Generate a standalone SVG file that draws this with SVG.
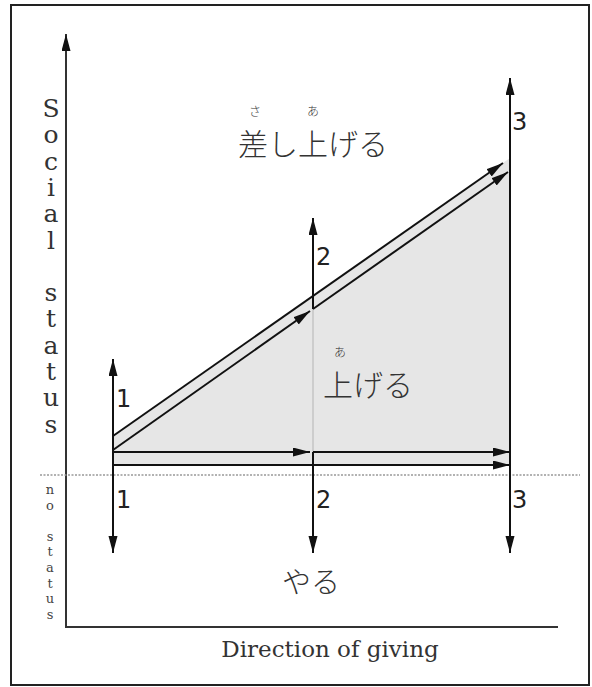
<svg xmlns="http://www.w3.org/2000/svg" width="592" height="687" viewBox="0 0 592 687">
<style>
.ax{stroke:#333;stroke-width:2;fill:none}
.ln{stroke:#111;stroke-width:2;fill:none}
.ar{stroke:#111;stroke-width:2;fill:none;marker-end:url(#ah)}
.ar2{stroke:#111;stroke-width:2;fill:none;marker-end:url(#ah);marker-start:url(#ah)}
.num{font-family:"DejaVu Sans",sans-serif;font-size:24px;fill:#222}
.lat{font-family:"DejaVu Serif","Liberation Serif",serif;fill:#333}
.jp{font-family:"Noto Sans CJK JP",sans-serif;font-weight:300;fill:#333}
</style>
<defs>
<marker id="ah" markerUnits="userSpaceOnUse" markerWidth="18" markerHeight="10" refX="17" refY="4.5" orient="auto-start-reverse">
<path d="M0,0 L17,4.5 L0,9 z" fill="#111"/>
</marker>
</defs>
<rect x="0" y="0" width="592" height="687" fill="#fff"/>
<rect id="frame" x="11" y="5" width="578" height="680" fill="none" stroke="#222" stroke-width="2"/>
<g id="region">
<polygon points="113,436 510,158 510,465 113,465" fill="#e6e6e6"/>
</g>
<g id="axes">
<line x1="66" y1="627" x2="66" y2="34" class="ax" style="marker-end:url(#ah)"/>
<line x1="65" y1="627" x2="558" y2="627" class="ax"/>
<line x1="40" y1="475" x2="580" y2="475" stroke="#999" stroke-width="1.5" stroke-dasharray="2,1.5"/>
</g>
<g id="connectors">
<line x1="113" y1="359" x2="113" y2="553" class="ar2"/>
<line x1="313" y1="218" x2="313" y2="309" class="ar" style="marker-end:none;marker-start:url(#ah)"/>
<line x1="313" y1="309" x2="313" y2="452" stroke="#c4c4c4" stroke-width="1.5"/>
<line x1="313" y1="452" x2="313" y2="553" class="ar"/>
<line x1="510" y1="78" x2="510" y2="553" class="ar2"/>
<line x1="113" y1="436" x2="503" y2="163" class="ar"/>
<line x1="113" y1="450" x2="310" y2="311" class="ar"/>
<line x1="313" y1="309" x2="508" y2="172" class="ar"/>
<line x1="113" y1="452" x2="310" y2="452" class="ar"/>
<line x1="313" y1="452" x2="510" y2="452" class="ar"/>
<line x1="113" y1="465" x2="510" y2="465" class="ar"/>
</g>
<g id="numbers">
<text class="num" x="116" y="407">1</text>
<text class="num" x="116" y="508">1</text>
<text class="num" x="316" y="265">2</text>
<text class="num" x="316" y="508">2</text>
<text class="num" x="512" y="130">3</text>
<text class="num" x="512" y="508">3</text>
</g>
<g id="social-status" class="lat" font-size="25" text-anchor="middle">
<text x="51" y="117">S</text>
<text x="51" y="143.3">o</text>
<text x="51" y="169.6">c</text>
<text x="51" y="195.9">i</text>
<text x="51" y="222.2">a</text>
<text x="51" y="248.5">l</text>
<text x="51" y="301.1">s</text>
<text x="51" y="327.4">t</text>
<text x="51" y="353.7">a</text>
<text x="51" y="380">t</text>
<text x="51" y="406.3">u</text>
<text x="51" y="432.6">s</text>
</g>
<g id="no-status" class="lat" font-size="13" text-anchor="middle" style="fill:#444">
<text x="50" y="494">n</text>
<text x="50" y="509.6">o</text>
<text x="50" y="540.8">s</text>
<text x="50" y="556.4">t</text>
<text x="50" y="572">a</text>
<text x="50" y="587.6">t</text>
<text x="50" y="603.2">u</text>
<text x="50" y="618.8">s</text>
</g>
<g id="x-label">
<text class="lat" x="330" y="657" font-size="23" text-anchor="middle">Direction of giving</text>
</g>
<g id="sashiageru">
<text class="jp" x="255" y="116" font-size="12" text-anchor="middle">さ</text>
<text class="jp" x="313" y="116" font-size="12" text-anchor="middle">あ</text>
<text class="jp" x="238" y="155" font-size="30">差し上げる</text>
</g>
<g id="ageru">
<text class="jp" x="340" y="357" font-size="12" text-anchor="middle">あ</text>
<text class="jp" x="323" y="396" font-size="30">上げる</text>
</g>
<g id="yaru">
<text class="jp" x="282" y="593" font-size="29">やる</text>
</g>
</svg>
